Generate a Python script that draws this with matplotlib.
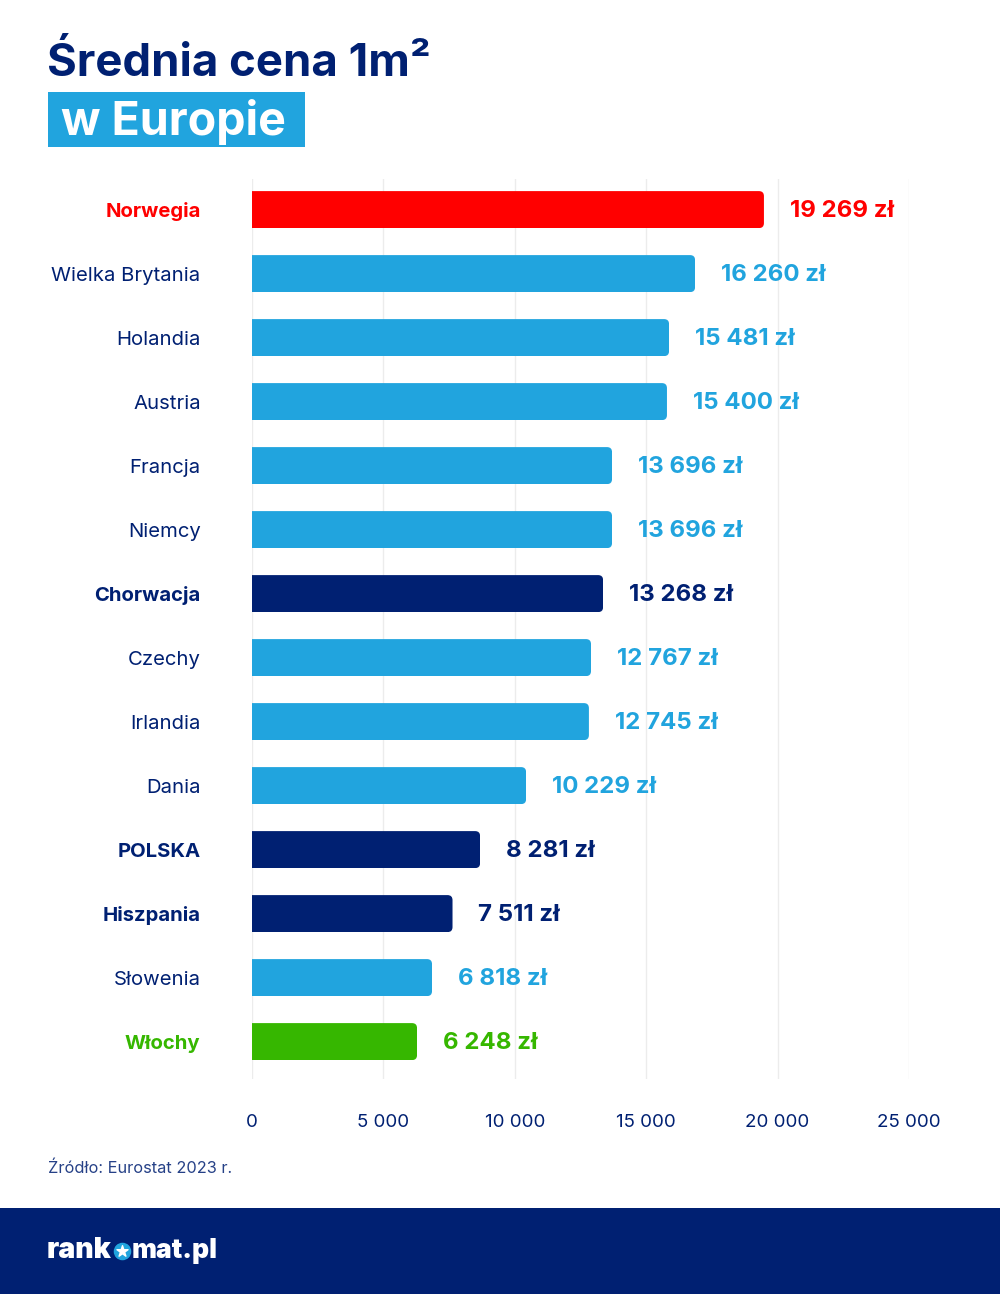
import matplotlib
matplotlib.use('Agg')
import matplotlib.pyplot as plt
from matplotlib.patches import FancyBboxPatch, Rectangle

NAVY = '#002072'
BLUE = '#21a4de'
RED = '#ff0000'
GREEN = '#36b700'
FONT = 'Inter'

countries = ['Norwegia', 'Wielka Brytania', 'Holandia', 'Austria', 'Francja', 'Niemcy', 'Chorwacja',
             'Czechy', 'Irlandia', 'Dania', 'POLSKA', 'Hiszpania', 'Słowenia', 'Włochy']
# bar lengths, they run a bit longer than the printed prices
bar_lengths = [19480, 16860, 15870, 15790, 13700, 13700, 13360, 12900, 12820, 10430, 8680, 7630, 6850, 6280]
price_labels = ['19 269 zł', '16 260 zł', '15 481 zł', '15 400 zł', '13 696 zł', '13 696 zł', '13 268 zł',
                '12 767 zł', '12 745 zł', '10 229 zł', '8 281 zł', '7 511 zł', '6 818 zł', '6 248 zł']
bar_colors = [RED, BLUE, BLUE, BLUE, BLUE, BLUE, NAVY, BLUE, BLUE, BLUE, NAVY, NAVY, BLUE, GREEN]
bold_rows = [True, False, False, False, False, False, True, False, False, False, True, True, False, True]
x_ticks = [0, 5000, 10000, 15000, 20000, 25000]
x_tick_labels = ['0', '5 000', '10 000', '15 000', '20 000', '25 000']

plt.rcParams['font.family'] = [FONT, 'DejaVu Sans']

W, H = 1000, 1294
fig = plt.figure(figsize=(W / 100, H / 100), dpi=100, facecolor='white')

# overlay in pixel coordinates for the title block and the footer
bg = fig.add_axes([0, 0, 1, 1])
bg.set_xlim(0, W)
bg.set_ylim(H, 0)
bg.axis('off')
bg.add_patch(Rectangle((48, 92), 257, 55, color=BLUE, lw=0))
bg.add_patch(Rectangle((0, 1208), W, 86, color=NAVY, lw=0))
bg.text(47, 76, 'Średnia cena 1m²', color=NAVY, fontsize=32.8, fontweight='bold', va='baseline', ha='left')
bg.text(61, 135, 'w Europie', color='white', fontsize=33.5, fontweight='bold', va='baseline', ha='left')
bg.text(48, 1168, 'Źródło: Eurostat 2023 r.', color=NAVY, alpha=0.85, fontsize=11.8, va='center', ha='left')

# logo
bg.text(47, 1258, 'rank', color='white', fontsize=20.5, fontweight='black', va='baseline', ha='left')
bg.scatter([122], [1251], s=135, color=BLUE, zorder=3)
bg.scatter([122], [1251], s=70, color='white', marker='*', zorder=4)
bg.text(132, 1258, 'mat.pl', color='white', fontsize=19, fontweight='black', va='baseline', ha='left')

ax = fig.add_axes([252 / W, 1 - 1079 / H, (909 - 252) / W, (1079 - 179) / H])
ax.patch.set_alpha(0)
positions = list(range(len(countries)))
ax.set_xlim(0, 25000)
ax.set_ylim((1079 - 209.6) / 64, (179 - 209.6) / 64)

bar_h = 37 / 64
bars = ax.barh(positions, bar_lengths, height=bar_h, color=bar_colors, zorder=3)

# round only the right end, clip each bar with a rounded box that starts left of the axis
rx, ry = 190, 5 / 64
for bar in bars:
    box = FancyBboxPatch((-1000, bar.get_y()), bar.get_width() + 1000, bar_h,
                         boxstyle=f'round,pad=0,rounding_size={rx}',
                         mutation_aspect=ry / rx, fill=False, lw=0)
    ax.add_patch(box)
    bar.set_clip_path(box)

for y, length, label, color in zip(positions, bar_lengths, price_labels, bar_colors):
    ax.annotate(label, (length, y), xytext=(18.7, -1.3), textcoords='offset points',
                color=color, fontsize=17.3, fontweight='bold', va='center', ha='left')

ax.set_xticks(x_ticks)
ax.set_xticklabels(x_tick_labels, color=NAVY, fontsize=13.5)
ax.set_yticks(positions)
ax.set_yticklabels(countries, fontsize=14.6)
for tick, color, is_bold in zip(ax.get_yticklabels(), bar_colors, bold_rows):
    tick.set_color(color if is_bold else NAVY)
    tick.set_fontweight('bold' if is_bold else 'normal')

ax.tick_params(axis='both', length=0)
ax.tick_params(axis='x', pad=25)
ax.tick_params(axis='y', pad=37)
ax.grid(axis='x', color='#ececec', lw=1, zorder=0)
ax.set_axisbelow(True)
for spine in ax.spines.values():
    spine.set_visible(False)

fig.savefig('out.png', dpi=100)
plt.close(fig)
